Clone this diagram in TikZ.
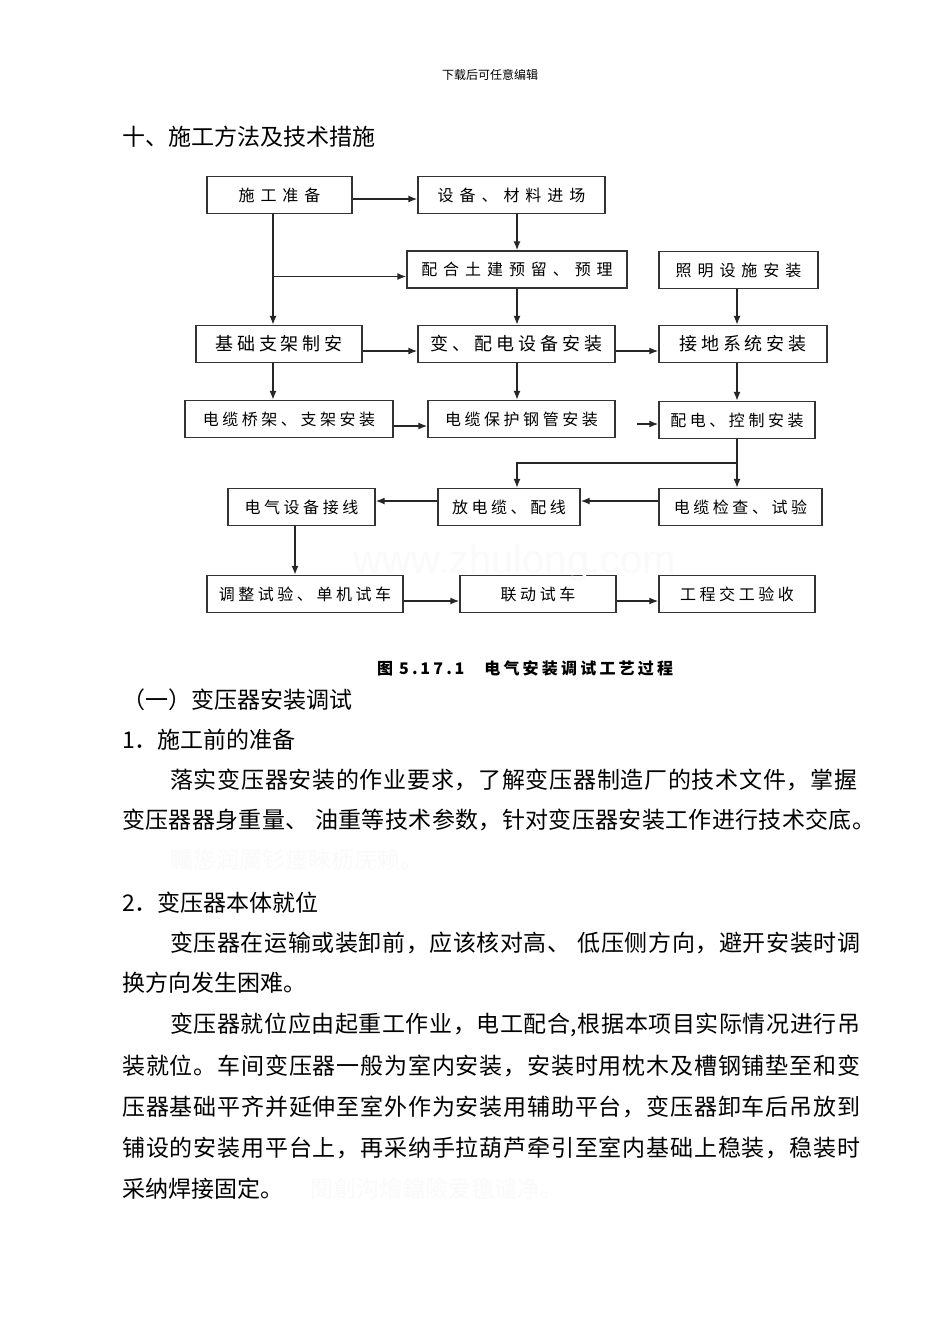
\documentclass[tikz,border=0pt]{standalone}
\usepackage{fontspec}
\setmainfont{Noto Sans CJK SC}
\newfontfamily\boxwide[LetterSpace=37]{Noto Sans CJK SC}
\newfontfamily\boxmid[LetterSpace=22]{Noto Sans CJK SC}
\newfontfamily\boxnarrow[LetterSpace=22]{Noto Sans CJK SC}
\newfontfamily\capfont[LetterSpace=20]{Noto Sans CJK SC}
\newfontfamily\markfont{Liberation Sans}
\usepackage{tikz}
\usetikzlibrary{arrows.meta}
\makeatletter
\newcommand{\jline}[2]{\hbox to #1{\@tfor\jc:=#2\do{\jc\hskip0pt plus 1fil}\unskip}}
\makeatother
\newcommand{\gap}{\hspace{6pt}}

\begin{document}
\begin{tikzpicture}[x=1pt,y=-1pt,
  box/.style={draw=black!80, line width=1.4pt, minimum height=37, inner sep=0},
  boxA/.style={box, font=\boxwide\fontsize{16}{18}\selectfont},
  boxB/.style={box, font=\boxmid\fontsize{18}{20}\selectfont},
  boxC/.style={box, font=\boxnarrow\fontsize{16}{18}\selectfont},
  arr/.style={-{Latex[length=9pt,width=7pt]}, line width=1.4pt, black!85},
  txt/.style={anchor=west, inner sep=0, font=\fontsize{23}{23}\selectfont}]
\useasboundingbox[fill=white] (0,0) rectangle (950,1344);

\node[inner sep=0, font=\fontsize{12}{12}\selectfont] (head) at (490,75) {下载后可任意编辑};
\node[txt] (title) at (122,137) {十、施工方法及技术措施};

% flow chart
\node[boxA, minimum width=145] (prep) at (279.5,195) {施工准备};
\node[boxA, minimum width=187] (equip) at (511.5,195) {设备、材料进场};
\node[boxA, minimum width=220] (civil) at (517,269.5) {配合土建预留、预理};
\node[boxA, minimum width=159] (light) at (738.5,270) {照明设施安装};
\node[boxB, minimum width=166] (base) at (279,344) {基础支架制安};
\node[boxB, minimum width=197] (trans) at (516.5,344) {变、配电设备安装};
\node[boxB, minimum width=168] (earth) at (743,344) {接地系统安装};
\node[boxC, minimum width=208] (tray) at (289,419) {电缆桥架、支架安装};
\node[boxC, minimum width=187] (pipe) at (521.5,419) {电缆保护钢管安装};
\node[boxC, minimum width=156] (ctrl) at (737,420) {配电、控制安装};
\node[boxC, minimum width=147] (wire) at (301.5,507) {电气设备接线};
\node[boxC, minimum width=142] (cable) at (509,507) {放电缆、配线};
\node[boxC, minimum width=163] (check) at (740.5,507) {电缆检查、试验};
\node[boxC, minimum width=196] (test) at (305,594) {调整试验、单机试车};
\node[boxC, minimum width=156] (joint) at (538,594) {联动试车};
\node[boxC, minimum width=156] (accept) at (737,594) {工程交工验收};

\coordinate (colA) at (273,0);
\coordinate (colB) at (517,0);
\coordinate (colC) at (737,0);
\coordinate (colD) at (295,0);
\coordinate (stub) at (637,424);
\coordinate (split) at (737,463);

\draw[arr] ([yshift=-4]prep.east) -- ([yshift=-4]equip.west);
\draw[arr] (equip.south -| colB) -- (civil.north -| colB);
\draw[arr] (prep.south -| colA) -- (base.north -| colA);
\draw[arr] ([yshift=-7]civil.west -| colA) -- ([yshift=-7]civil.west);
\draw[arr] (civil.south -| colB) -- (trans.north -| colB);
\draw[arr] (light.south -| colC) -- (earth.north -| colC);
\draw[arr] ([yshift=-7]base.east) -- ([yshift=-7]trans.west);
\draw[arr] ([yshift=-7]trans.east) -- ([yshift=-7]earth.west);
\draw[arr] (base.south -| colA) -- (tray.north -| colA);
\draw[arr] (trans.south -| colB) -- (pipe.north -| colB);
\draw[arr] (earth.south -| colC) -- (ctrl.north -| colC);
\draw[arr] ([yshift=-7]tray.east) -- ([yshift=-7]pipe.west);
\draw[arr] (stub) -- (stub -| ctrl.west);
\draw[arr] (ctrl.south -| colC) -- (check.north -| colC);
\draw[arr] (split) -| (colB |- cable.north);
\draw[arr] ([yshift=6]check.west) -- ([yshift=6]cable.east);
\draw[arr] ([yshift=6]cable.west) -- ([yshift=6]wire.east);
\draw[arr] (wire.south -| colD) -- (test.north -| colD);
\draw[arr] ([yshift=-7]test.east) -- ([yshift=-7]joint.west);
\draw[arr] ([yshift=-7]joint.east) -- ([yshift=-7]accept.west);

\node[inner sep=0, text=black!2, font=\markfont\fontsize{40}{40}\selectfont] (mark) at (515,563) {www.zhulong.com};

\node[anchor=west, inner sep=0, font=\capfont\bfseries\fontsize{16}{16}\selectfont] (caption) at (377,668)
  {图\hspace{6pt}5.\,17.\,1\hspace{20pt}电气安装调试工艺过程};

% text
\node[txt] (sec1) at (122,700) {（一）变压器安装调试};
\node[txt] (sub1) at (122,740) {1．施工前的准备};
\node[txt] (p1a) at (170,780) {\jline{687pt}{落实变压器安装的作业要求，了解变压器制造厂的技术文件，掌握}};
\node[txt] (p1b) at (122,820) {\jline{753pt}{变压器器身重量、\gap 油重等技术参数，针对变压器安装工作进行技术交底。}};
\node[txt, text=black!2] (ghost1) at (170,860) {矚慫润厲钐瘗睞枥庑赖。};
\node[txt] (sub2) at (122,903) {2．变压器本体就位};
\node[txt] (p2a) at (170,943) {\jline{690pt}{变压器在运输或装卸前，应该核对高、\gap 低压侧方向，避开安装时调}};
\node[txt] (p2b) at (122,983) {换方向发生困难。};
\node[txt] (p3a) at (170,1025) {\jline{690pt}{变压器就位应由起重工作业，电工配合,根据本项目实际情况进行吊}};
\node[txt] (p3b) at (122,1066) {\jline{738pt}{装就位。车间变压器一般为室内安装，安装时用枕木及槽钢铺垫至和变}};
\node[txt] (p3c) at (122,1107) {\jline{738pt}{压器基础平齐并延伸至室外作为安装用辅助平台，变压器卸车后吊放到}};
\node[txt] (p3d) at (122,1148) {\jline{738pt}{铺设的安装用平台上，再采纳手拉葫芦牵引至室内基础上稳装，稳装时}};
\node[txt] (p3e) at (122,1189) {采纳焊接固定。};
\node[txt, text=black!2] (ghost2) at (310,1189) {聞創沟燴鐺險爱氇谴净。};
\end{tikzpicture}
\end{document}
